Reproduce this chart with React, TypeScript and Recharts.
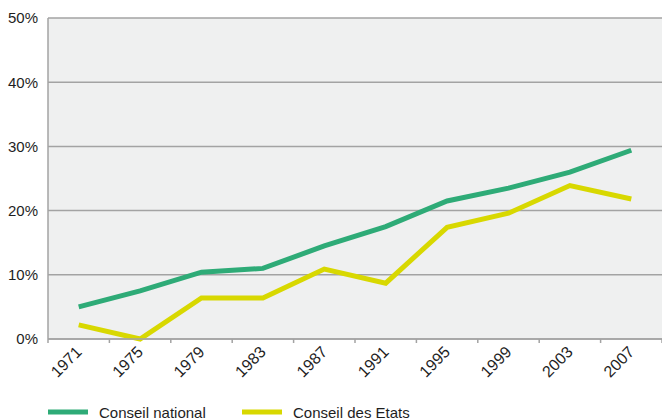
import React from 'react';
import { LineChart, Line, XAxis, YAxis, CartesianGrid, Legend } from 'recharts';

const years = [1971, 1975, 1979, 1983, 1987, 1991, 1995, 1999, 2003, 2007];
const conseilNational = [5.0, 7.5, 10.4, 11.0, 14.5, 17.5, 21.5, 23.5, 26.0, 29.4];
const conseilEtats = [2.2, 0, 6.4, 6.4, 10.9, 8.7, 17.4, 19.6, 23.9, 21.8];
const yTicks = [0, 10, 20, 30, 40, 50];
const xBoundaries = [1969, 1973, 1977, 1981, 1985, 1989, 1993, 1997, 2001, 2005, 2009];
const seriesNames = ['Conseil national', 'Conseil des Etats'];
const seriesColors = ['#2eab77', '#d8d800'];

const data = years.map((y, i) => ({ year: y, cn: conseilNational[i], ce: conseilEtats[i] }));
const allXTicks = [...xBoundaries, ...years].sort((a, b) => a - b);

const FONT = '"Liberation Sans", Arial, sans-serif';
const GRAY = '#a3a3a3';

const XTick = (props: any) => {
  const { x, y, payload } = props;
  const v = payload.value;
  if (years.includes(v)) {
    const ax = x + 4;
    const ay = y + 14;
    return (
      <text x={ax} y={ay} transform={`rotate(-45 ${ax} ${ay})`} textAnchor="end" fontSize={16} fontFamily={FONT} fill="#1e1e1e">
        {v}
      </text>
    );
  }
  return <line x1={x} y1={y} x2={x} y2={y + 4} stroke={GRAY} strokeWidth={1.5} />;
};

const LegendContent = (props: any) => {
  const payload = [...(props.payload || [])].sort(
    (a: any, b: any) => seriesNames.indexOf(a.value) - seriesNames.indexOf(b.value)
  );
  return (
    <div style={{ position: 'relative', height: 30, width: 662 }}>
      {payload.map((p: any, i: number) => (
        <div key={i} style={{ position: 'absolute', left: 48 + i * 194, top: 14, display: 'flex', alignItems: 'center', height: 18 }}>
          <svg width={40} height={18}>
            <line x1={0} y1={9} x2={40} y2={9} stroke={p.color} strokeWidth={5} />
          </svg>
          <span style={{ marginLeft: 11, fontSize: 15, fontFamily: FONT, color: '#1e1e1e' }}>{p.value}</span>
        </div>
      ))}
    </div>
  );
};

export default function App() {
  return (
    <div style={{ position: 'absolute', left: 0, top: 0 }}>
      <LineChart width={662} height={419} data={data} margin={{ top: 18, right: 0, left: 0, bottom: 0 }}>
        <CartesianGrid horizontal vertical={false} stroke={GRAY} strokeWidth={1.5} fill="#eff0f0" fillOpacity={1} />
        <XAxis
          dataKey="year"
          type="number"
          domain={[1969, 2009]}
          ticks={allXTicks}
          interval={0}
          tick={<XTick />}
          tickLine={false}
          tickSize={0}
          tickMargin={0}
          axisLine={{ stroke: GRAY, strokeWidth: 1.5 }}
          height={50}
        />
        <YAxis
          domain={[0, 50]}
          ticks={yTicks}
          tickFormatter={(v: number) => `${v}%`}
          width={48}
          tickLine={false}
          tickSize={0}
          tickMargin={10}
          axisLine={{ stroke: GRAY, strokeWidth: 1.5 }}
          tick={{ fontSize: 15, fontFamily: FONT, fill: '#1e1e1e' }}
        />
        <Legend verticalAlign="bottom" height={30} content={<LegendContent />} />
        <Line type="linear" dataKey="cn" name={seriesNames[0]} stroke={seriesColors[0]} strokeWidth={5} dot={false} isAnimationActive={false} />
        <Line type="linear" dataKey="ce" name={seriesNames[1]} stroke={seriesColors[1]} strokeWidth={5} dot={false} isAnimationActive={false} />
      </LineChart>
    </div>
  );
}
